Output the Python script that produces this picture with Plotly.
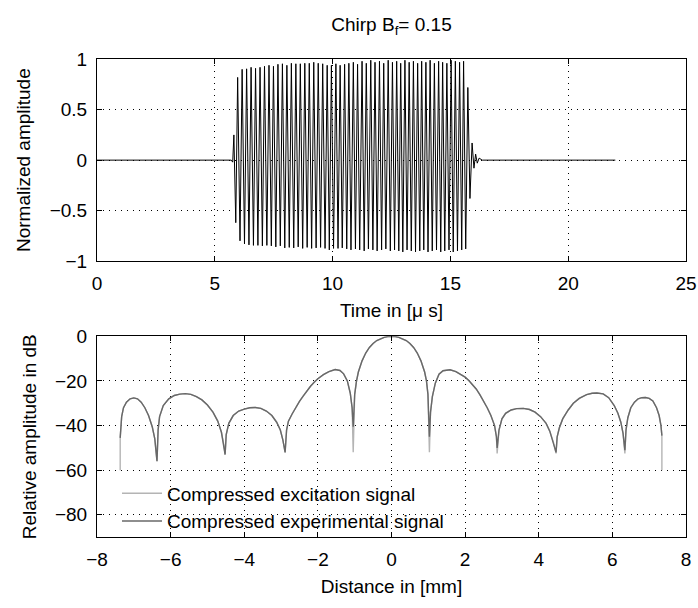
import plotly.graph_objects as go

# ---------------- Top panel: chirp (extrema) ----------------
onset_t = [0.0, 5.70, 5.76, 5.81, 5.89]
onset_v = [0.0, 0.0, -0.02, 0.25, -0.62]

pos_t = [5.97, 6.16, 6.35, 6.54, 6.73, 6.92, 7.11, 7.30, 7.49, 7.68,
         7.87, 8.06, 8.25, 8.44, 8.63, 8.82, 9.01, 9.20, 9.39, 9.58,
         9.77, 9.95, 10.14, 10.32, 10.51, 10.69, 10.88, 11.06, 11.25, 11.43,
         11.62, 11.80, 11.99, 12.17, 12.36,
         12.54, 12.72, 12.89, 13.07, 13.25, 13.43, 13.61, 13.78, 13.96, 14.14,
         14.32, 14.50, 14.67, 14.85, 15.03, 15.21, 15.39, 15.56]
neg_t = [6.07, 6.26, 6.45, 6.64, 6.83, 7.02, 7.21, 7.40, 7.59, 7.78,
         7.97, 8.16, 8.35, 8.54, 8.73, 8.92, 9.11, 9.30, 9.49, 9.68,
         9.86, 10.04, 10.23, 10.41, 10.60, 10.78, 10.97, 11.15, 11.34, 11.52,
         11.71, 11.89, 12.08, 12.26, 12.45,
         12.63, 12.81, 12.98, 13.16, 13.34, 13.52, 13.70, 13.87, 14.05, 14.23,
         14.41, 14.59, 14.76, 14.94, 15.12, 15.30, 15.48, 15.65]
pos_v = [0.82, 0.90, 0.905, 0.92, 0.91, 0.92, 0.93, 0.94, 0.93, 0.95,
         0.955, 0.94, 0.96, 0.955, 0.955, 0.96, 0.96, 0.97, 0.96, 0.955,
         0.94, 0.94, 0.955, 0.94, 0.95, 0.96, 0.97, 0.95, 0.98, 0.96,
         0.99, 0.97, 0.98, 0.96, 0.99,
         0.97, 0.98, 0.96, 0.99, 0.97, 0.98, 0.96, 0.98, 0.97, 0.99,
         0.96, 0.98, 0.97, 0.96, 0.99, 0.98, 0.97, 0.98]
neg_v = [-0.80, -0.83, -0.84, -0.845, -0.845, -0.85, -0.845, -0.85, -0.86, -0.85,
         -0.87, -0.865, -0.87, -0.86, -0.875, -0.865, -0.875, -0.87, -0.865, -0.875,
         -0.89, -0.875, -0.875, -0.87, -0.88, -0.89, -0.88, -0.89, -0.90, -0.88,
         -0.89, -0.90, -0.89, -0.88, -0.90,
         -0.89, -0.90, -0.91, -0.89, -0.90, -0.91, -0.90, -0.89, -0.91, -0.90,
         -0.89, -0.91, -0.90, -0.89, -0.91, -0.90, -0.89, -0.88]
tail_t = [15.74, 15.83, 15.92, 16.00, 16.07, 16.14, 16.22, 16.35, 22.0]
tail_v = [0.72, -0.38, 0.17, -0.08, 0.06, -0.03, 0.02, 0.0, 0.0]

# ---------------- Bottom panel: compressed signals (dB) ----------------
dist_mm = [-7.37, -7.37, -7.33, -7.28, -7.2, -7.1, -7.0, -6.9, -6.8, -6.7, -6.6, -6.5, -6.43,
           -6.37,
           -6.34, -6.3, -6.2, -6.05, -5.9, -5.75, -5.6, -5.45, -5.3, -5.15, -5.0, -4.85, -4.72, -4.62, -4.55,
           -4.52,
           -4.49, -4.42, -4.3, -4.15, -4.0, -3.85, -3.7, -3.55, -3.4, -3.25, -3.12, -3.02, -2.95,
           -2.89,
           -2.85, -2.8, -2.7, -2.6, -2.5, -2.4, -2.3, -2.2, -2.1, -2.0, -1.85, -1.7, -1.53, -1.4, -1.3, -1.2, -1.12, -1.07,
           -1.04,
           -1.0, -0.95, -0.9, -0.8, -0.7, -0.6, -0.5, -0.4, -0.3, -0.2, -0.1, 0.0,
           0.1, 0.2, 0.3, 0.4, 0.5, 0.6, 0.7, 0.8, 0.9, 0.95, 0.99,
           1.03,
           1.06, 1.11, 1.19, 1.29, 1.4, 1.59, 1.75, 1.9, 2.0, 2.1, 2.2, 2.3, 2.4, 2.5, 2.6, 2.7, 2.8, 2.85,
           2.87,
           2.92, 3.0, 3.1, 3.25, 3.4, 3.58, 3.75, 3.9, 4.05, 4.2, 4.3, 4.4,
           4.47,
           4.5, 4.56, 4.65, 4.8, 4.94, 5.1, 5.3, 5.45, 5.58, 5.75, 5.9, 6.05, 6.15, 6.23, 6.29,
           6.34,
           6.37, 6.42, 6.5, 6.6, 6.7, 6.8, 6.9, 7.0, 7.1, 7.2, 7.27, 7.32, 7.345, 7.345]

experimental_db = [-45.5, -45.5, -36, -32, -29.5, -28, -27.6, -28, -29.5, -32, -35.5, -40.5, -46,
                   -56,
                   -42, -36, -31, -28, -26.5, -25.9, -25.7, -26, -27, -28.5, -30.8, -34, -38, -43, -49,
                   -53,
                   -44, -39, -35.5, -33.5, -32.6, -32.0, -31.9, -32.3, -33.5, -35.5, -38.5, -42, -46.5,
                   -52,
                   -42, -38, -34.8, -31.8, -29.2, -26.8, -24.5, -22.4, -20.6, -19.0, -17.2, -15.8, -14.9, -15.3, -16.8, -20, -25.5, -32,
                   -40.5,
                   -26, -20, -16, -11, -7.5, -5, -3.2, -1.9, -1.0, -0.45, -0.1, 0.0,
                   -0.1, -0.45, -1.0, -1.9, -3.2, -5, -7.5, -11, -16, -20, -26,
                   -45,
                   -34, -27, -21, -17, -15.4, -15.0, -15.8, -17.1, -18.3, -19.8, -21.5, -23.6, -26.1, -28.9, -32, -35.5, -40, -45,
                   -50,
                   -42, -37, -34.5, -33, -32.4, -32.3, -32.8, -34, -36, -39, -42.5, -47.5,
                   -52,
                   -45, -41, -37, -33, -30, -27.8, -26.1, -25.5, -25.4, -25.8, -27.5, -31, -34.5, -38.5, -43.5,
                   -51,
                   -42, -36.5, -32, -29.5, -28, -27.5, -27.4, -27.8, -29, -32, -35.5, -40, -44.5, -44.5]

excitation_db = [-60, -45.5, -36, -32, -29.5, -28, -27.6, -28, -29.5, -32, -35.5, -40.5, -46,
                 -56,
                 -42, -36, -31, -28, -26.5, -25.9, -25.7, -26, -27, -28.5, -30.8, -34, -38, -43, -49,
                 -53,
                 -44, -39, -35.5, -33.5, -32.6, -32.0, -31.9, -32.3, -33.5, -35.5, -38.5, -42, -46.5,
                 -52,
                 -42, -38, -34.8, -31.8, -29.2, -26.8, -24.5, -22.4, -20.6, -19.0, -17.2, -15.8, -14.9, -15.3, -16.8, -20, -25.5, -32,
                 -52,
                 -26, -20, -16, -11, -7.5, -5, -3.2, -1.9, -1.0, -0.45, -0.1, 0.0,
                 -0.1, -0.45, -1.0, -1.9, -3.2, -5, -7.5, -11, -16, -20, -26,
                 -52,
                 -34, -27, -21, -17, -15.4, -15.0, -15.8, -17.1, -18.3, -19.8, -21.5, -23.6, -26.1, -28.9, -32, -35.5, -40, -45,
                 -52.5,
                 -42, -37, -34.5, -33, -32.4, -32.3, -32.8, -34, -36, -39, -42.5, -47.5,
                 -52.5,
                 -45, -41, -37, -33, -30, -27.8, -26.1, -25.5, -25.4, -25.8, -27.5, -31, -34.5, -38.5, -43.5,
                 -52.5,
                 -42, -36.5, -32, -29.5, -28, -27.5, -27.4, -27.8, -29, -32, -35.5, -40, -44.5, -60]

# ---------------- build chirp trace from extrema ----------------
chirp_t = list(onset_t)
chirp_v = list(onset_v)
for tp, vp, tn, vn in zip(pos_t, pos_v, neg_t, neg_v):
    chirp_t += [tp, tn]
    chirp_v += [vp, vn]
chirp_t += tail_t
chirp_v += tail_v

FONT = "Liberation Sans, Arial, Helvetica, sans-serif"
FS = 19
W, H = 698, 608
ML, MR = 97, 12

fig = go.Figure()
fig.add_trace(go.Scatter(x=chirp_t, y=chirp_v, mode="lines",
                         line=dict(color="black", width=1), showlegend=False,
                         xaxis="x", yaxis="y"))
fig.add_trace(go.Scatter(x=dist_mm, y=excitation_db, mode="lines",
                         line=dict(color="#b4b4b4", width=1.4),
                         name="Compressed excitation signal", xaxis="x2", yaxis="y2"))
fig.add_trace(go.Scatter(x=dist_mm, y=experimental_db, mode="lines",
                         line=dict(color="#686868", width=1.4),
                         name="Compressed experimental signal", xaxis="x2", yaxis="y2"))

common = dict(showline=True, linecolor="black", linewidth=1, mirror="ticks",
              ticks="inside", ticklen=5, tickcolor="black",
              showgrid=True, gridcolor="black", gridwidth=1, griddash="1px,5px",
              zeroline=False, tickfont=dict(family=FONT, size=FS, color="black"))
xcommon = dict(common, ticklabelstandoff=5)
ycommon = dict(common, ticklabelstandoff=5)

def pxy(top, bottom):
    return [1 - bottom / H, 1 - top / H]

fig.update_layout(
    width=W, height=H,
    margin=dict(l=ML, r=MR, t=0, b=0),
    paper_bgcolor="white", plot_bgcolor="white",
    font=dict(family=FONT, size=FS, color="black"),
    title=dict(text="Chirp B<sub>f</sub>= 0.15", x=(ML + (W - MR)) / 2 / W, xanchor="center",
               y=1 - 24 / H, yanchor="middle", font=dict(family=FONT, size=FS, color="black")),
    xaxis=dict(range=[0, 25], tickvals=[0, 5, 10, 15, 20, 25], anchor="y",
               title=dict(text="Time in [μ s]", standoff=10, font=dict(size=FS)), **xcommon),
    yaxis=dict(range=[-1, 1], tickvals=[-1, -0.5, 0, 0.5, 1], ticktext=["−1", "−0.5", "0", "0.5", "1"],
               domain=pxy(51, 260), anchor="x",
               title=dict(text="Normalized amplitude", standoff=14, font=dict(size=FS)), **ycommon),
    xaxis2=dict(range=[-8, 8], tickvals=[-8, -6, -4, -2, 0, 2, 4, 6, 8], anchor="y2",
                title=dict(text="Distance in [mm]", standoff=10, font=dict(size=FS)), **xcommon),
    yaxis2=dict(range=[-90, 0], tickvals=[-80, -60, -40, -20, 0], domain=pxy(338, 546), anchor="x2",
                title=dict(text="Relative amplitude in dB", standoff=13, font=dict(size=FS)), **ycommon),
    legend=dict(x=(117 - ML) / (W - ML - MR), y=1 - 481 / H, xanchor="left", yanchor="top",
                bgcolor="rgba(0,0,0,0)", borderwidth=0, tracegroupgap=0, itemwidth=40,
                font=dict(family=FONT, size=FS, color="black")),
    showlegend=True,
)

fig.write_html("out.html")
